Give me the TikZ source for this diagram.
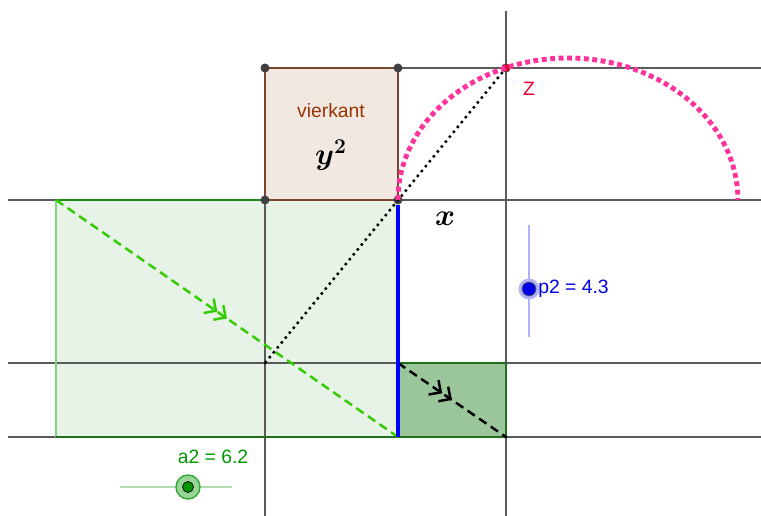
\documentclass[tikz,border=0pt]{standalone}
\usepackage{amsmath}
\usepackage{fontspec}
\setmainfont{Liberation Sans}
\usetikzlibrary{positioning}
\usetikzlibrary{arrows.meta}
\usetikzlibrary{decorations.markings}
\definecolor{gridgray}{RGB}{90,90,90}
\definecolor{ptgray}{RGB}{64,64,64}
\definecolor{brown}{RGB}{153,51,0}
\definecolor{sqedge}{RGB}{120,70,45}
\definecolor{sqfill}{RGB}{242,232,226}
\definecolor{lgfill}{RGB}{230,243,230}
\definecolor{lgedge}{RGB}{128,208,128}
\definecolor{dgfill}{RGB}{155,197,155}
\definecolor{dgedge}{RGB}{30,110,30}
\definecolor{dashgreen}{RGB}{51,204,0}
\definecolor{pink}{RGB}{255,51,153}
\definecolor{zred}{RGB}{230,0,50}
\definecolor{slgreen}{RGB}{0,150,0}
\definecolor{slblue}{RGB}{0,0,230}

\begin{document}
\begin{tikzpicture}[x=0.02cm,y=-0.02cm,
  gridline/.style={draw=gridgray, line width=0.9pt},
  vertex/.style={circle, fill=ptgray, inner sep=0pt, minimum size=0.18cm},
  lbl/.style={font=\fontsize{11}{13}\selectfont},
  midmark/.style={postaction={decorate}, decoration={markings,
      mark=at position 0.5 with {\arrow{Straight Barb[length=5pt,width=10pt] Straight Barb[length=5pt,width=10pt]}}}},
  dashline/.style={line width=1.4pt, dash pattern=on 5pt off 3pt}]

\useasboundingbox (0,0) rectangle (761,516);

%---------------------------------------
% Points
%---------------------------------------
\coordinate (H) at (56,200);
\coordinate (K) at (56,437);
\coordinate (E) at (398,363);
\coordinate (G) at (398,437);
\coordinate (F) at (506,437);
\coordinate (P) at (265,363);

% Fills
\fill[lgfill] (H) rectangle (G);
\fill[dgfill] (E) rectangle (F);
\fill[sqfill] (265,68) rectangle (398,200);

%---------------------------------------
% Lines
%---------------------------------------
\draw[gridline] (8,200) -- (761,200);
\draw[gridline] (8,363) -- (761,363);
\draw[gridline] (8,437) -- (761,437);
\draw[gridline] (398,68) -- (761,68);
\draw[gridline] (265,200) -- (265,516);
\draw[gridline] (506,11) -- (506,516);

% Rectangles
\draw[lgedge, line width=1.4pt] (H) -- (K);
\draw[dgedge!80!green, line width=0.9pt] (H) -- (398,200);
\draw[dgedge, line width=0.9pt] (K) -- (G);
\draw[dgedge, line width=0.8pt] (E) rectangle (F);
\draw[sqedge, line width=0.6pt] (265,68) rectangle (398,200);

% Diagonals
\draw[dashgreen, dashline, midmark] (H) -- (G);
\draw[black, dashline, midmark] (E) -- (F);

%---------------------------------------
% Square vertices and Z
%---------------------------------------
\node[vertex] (A) at (265,68) {};
\node[vertex] (B) at (398,68) {};
\node[vertex] (C) at (265,200) {};
\node[vertex] (D) at (398,200) {};
\node[circle, fill=zred, draw=black!70, line width=0.4pt, inner sep=0pt, minimum size=0.17cm] (Z) at (506,68) {};

\draw[blue, line width=2.2pt] (D) -- (G);
\draw[black, line width=1.4pt, dash pattern=on 1.4pt off 2.2pt] (P) -- (Z);

% Half ellipse
\draw[pink, line width=2.8pt, dash pattern=on 2.8pt off 2pt]
  (D.center) arc[start angle=180, end angle=0, x radius=3.4cm, y radius=2.84cm];

\fill[black] (P) circle (1.6);
\fill[black] (F) circle (1.6);

%---------------------------------------
% Labels
%---------------------------------------
\node[lbl, text=zred, anchor=west] (zlbl) at (517,89) {Z};
\node[lbl, text=brown] (vk) at (331,111) {vierkant};
\node[font=\fontsize{17}{20}\selectfont] (ysq) at (331,155) {$\boldsymbol{y^2}$};
\node[font=\fontsize{16}{19}\selectfont] (xlbl) at (445,219) {$\boldsymbol{x}$};

%---------------------------------------
% Sliders
%---------------------------------------
\draw[slblue!30, line width=0.9pt] (529,225) -- (529,337);
\node[circle, fill=slblue!30, inner sep=0pt, minimum size=0.42cm] (p2h) at (529,289) {};
\node[circle, fill=slblue, draw=black!60, line width=0.4pt, inner sep=0pt, minimum size=0.28cm] (p2) at (529,289) {};
\node[lbl, text=slblue, anchor=west, inner sep=0pt] (p2lbl) at (538,289) {p2 = 4.3};

\draw[slgreen!30, line width=0.9pt] (120,487) -- (232,487);
\node[circle, fill=slgreen!40, draw=slgreen!80, line width=0.8pt, inner sep=0pt, minimum size=0.48cm] (a2h) at (188,487) {};
\node[circle, fill=slgreen, draw=black, line width=0.4pt, inner sep=0pt, minimum size=0.22cm] (a2) at (188,487) {};
\node[lbl, text=slgreen] (a2lbl) at (213,457) {a2 = 6.2};

\end{tikzpicture}
\end{document}
